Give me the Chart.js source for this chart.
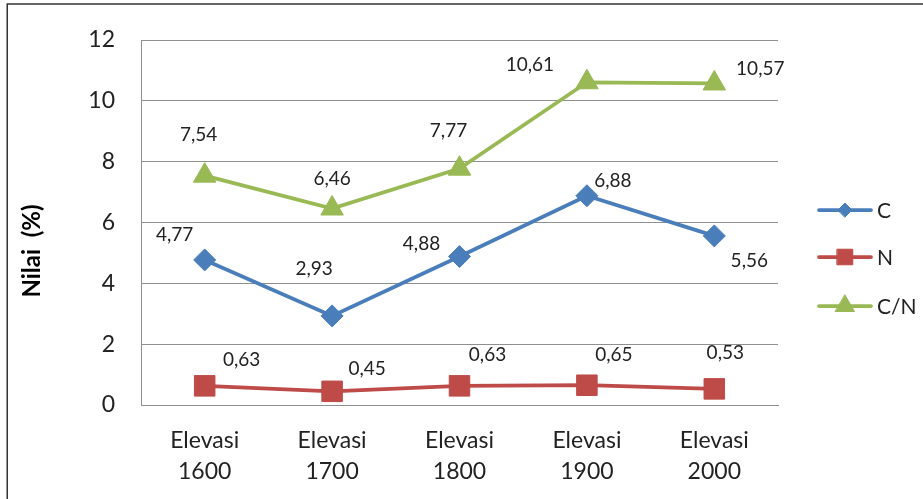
<!DOCTYPE html>
<html>
<head>
<meta charset="utf-8">
<script src="https://cdn.jsdelivr.net/npm/chart.js@4/dist/chart.umd.min.js"></script>
<style>
  html, body { margin: 0; padding: 0; background: #fff; }
  #wrap { position: relative; width: 923px; height: 499px; }
</style>
</head>
<body>
<div id="wrap"><canvas id="c" width="923" height="499"></canvas></div>
<script>
// Kategori elevasi (m dpl)
const categories = [
  ['Elevasi', '1600'],
  ['Elevasi', '1700'],
  ['Elevasi', '1800'],
  ['Elevasi', '1900'],
  ['Elevasi', '2000']
];
// Nilai C, N dan rasio C/N (%)
const seriesC  = [4.77, 2.93, 4.88, 6.88, 5.56];
const seriesN  = [0.63, 0.45, 0.63, 0.65, 0.53];
const seriesCN = [7.54, 6.46, 7.77, 10.61, 10.57];
const yTicks   = [0, 2, 4, 6, 8, 10, 12];

const FONT = 'Lato, "Open Sans", sans-serif';
const TEXT = '#222';
const GRID = '#8f8f8f';

// Pixel offsets of each value label from its point
const labelShift = {
  C:  [[-30, -25], [-18, -47], [-38, -13], [26, -15], [35, 25]],
  N:  [[37, -26], [35, -22], [28, -31], [27, -30], [11, -36]],
  CN: [[-6, -41], [0, -30], [-11, -38], [-57, -17], [46, -15]]
};

const fmt = v => v.toFixed(2).replace('.', ',');

const valueLabels = {
  id: 'valueLabels',
  afterDatasetsDraw(chart) {
    const ctx = chart.ctx;
    ctx.save();
    ctx.font = '19px ' + FONT;
    ctx.fillStyle = TEXT;
    ctx.textAlign = 'center';
    ctx.textBaseline = 'middle';
    chart.data.datasets.forEach((ds, i) => {
      const meta = chart.getDatasetMeta(i);
      meta.data.forEach((pt, j) => {
        const [dx, dy] = ds.shift[j];
        ctx.fillText(fmt(ds.data[j]), pt.x + dx, pt.y + dy);
      });
    });
    ctx.restore();
  }
};

const frameAndTitle = {
  id: 'frameAndTitle',
  beforeDraw(chart) {
    const ctx = chart.ctx;
    ctx.save();
    ctx.fillStyle = '#fff';
    ctx.fillRect(0, 0, chart.width, chart.height);
    ctx.strokeStyle = '#333';
    ctx.lineWidth = 1.5;
    ctx.beginPath();
    ctx.moveTo(7.25, chart.height);
    ctx.lineTo(7.25, 4);
    ctx.lineTo(chart.width, 4);
    ctx.stroke();
    ctx.restore();
  },
  afterDraw(chart) {
    const ctx = chart.ctx;
    ctx.save();
    // axis title
    ctx.translate(32, 251);
    ctx.rotate(-Math.PI / 2);
    ctx.font = 'bold 24px ' + FONT;
    ctx.fillStyle = '#000';
    ctx.textAlign = 'center';
    ctx.textBaseline = 'middle';
    ctx.fillText('Nilai  (%)', 0, 0);
    ctx.restore();

    // legend: line with marker, then name
    const rows = [
      { name: 'C',   y: 210, idx: 0, r: 7 },
      { name: 'N',   y: 257, idx: 1, r: 11 },
      { name: 'C/N', y: 306, idx: 2, r: 11 }
    ];
    rows.forEach(row => {
      const ds = chart.data.datasets[row.idx];
      ctx.save();
      ctx.strokeStyle = ds.borderColor;
      ctx.lineWidth = 3.75;
      ctx.lineCap = 'round';
      ctx.beginPath();
      ctx.moveTo(819, row.y);
      ctx.lineTo(871, row.y);
      ctx.stroke();
      ctx.fillStyle = ds.backgroundColor;
      ctx.lineWidth = 1;
      Chart.helpers.drawPoint(ctx, { pointStyle: ds.pointStyle, radius: row.r, borderWidth: 1 }, 845, row.y);
      ctx.fillStyle = TEXT;
      ctx.font = '21px ' + FONT;
      ctx.textAlign = 'left';
      ctx.textBaseline = 'middle';
      ctx.fillText(row.name, 877, row.y + 1);
      ctx.restore();
    });
  }
};

new Chart(document.getElementById('c'), {
  type: 'line',
  data: {
    labels: categories,
    datasets: [
      {
        label: 'C', data: seriesC, shift: labelShift.C,
        borderColor: '#4A7EBB', backgroundColor: '#4A7EBB',
        pointStyle: 'rectRot', pointRadius: 11, pointBorderWidth: 1,
        borderWidth: 3.75, tension: 0
      },
      {
        label: 'N', data: seriesN, shift: labelShift.N,
        borderColor: '#BE4B48', backgroundColor: '#BE4B48',
        pointStyle: 'rect', pointRadius: 14.5, pointBorderWidth: 1,
        borderWidth: 3.75, tension: 0
      },
      {
        label: 'C/N', data: seriesCN, shift: labelShift.CN,
        borderColor: '#98B954', backgroundColor: '#98B954',
        pointStyle: 'triangle', pointRadius: 13, pointBorderWidth: 1,
        borderWidth: 3.75, tension: 0
      }
    ]
  },
  options: {
    responsive: false,
    animation: false,
    clip: false,
    layout: { padding: { top: 40, right: 145, bottom: 0, left: 0 } },
    plugins: { legend: { display: false }, tooltip: { enabled: false } },
    scales: {
      x: {
        type: 'category',
        offset: true,
        grid: { display: true, drawOnChartArea: false, drawTicks: false },
        border: { display: true, color: GRID, width: 1 },
        ticks: {
          color: TEXT, padding: 20, maxRotation: 0, autoSkip: false,
          font: { family: FONT, size: 23, lineHeight: 1.35 }
        },
        afterFit(scale) { scale.height = 94; }
      },
      y: {
        min: 0, max: 12,
        afterBuildTicks(scale) { scale.ticks = yTicks.map(v => ({ value: v })); },
        grid: { color: GRID, lineWidth: 1, drawTicks: false },
        border: { display: true, color: GRID, width: 1 },
        ticks: {
          color: TEXT, padding: 26,
          font: { family: FONT, size: 23 }
        },
        afterFit(scale) { scale.width = 141; }
      }
    }
  },
  plugins: [frameAndTitle, valueLabels]
});
</script>
</body>
</html>
